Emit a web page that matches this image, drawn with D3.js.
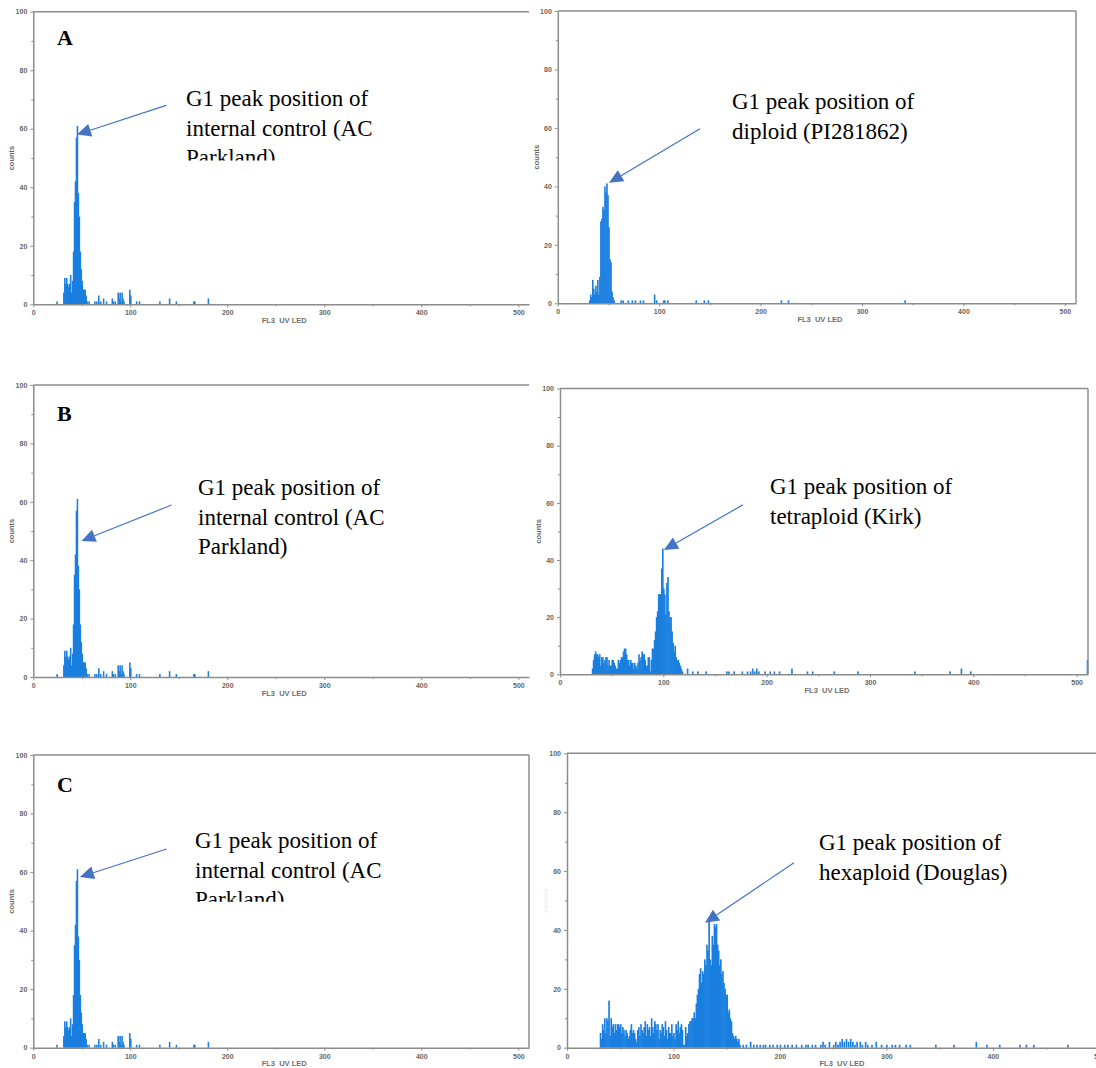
<!DOCTYPE html>
<html>
<head>
  <meta charset="utf-8">
  <title>Flow cytometry histograms</title>
  <style type="text/css">
    body { margin: 0; background: #fff; }
    svg { display: block; }
    .tick text { font-family: "Liberation Sans", Arial, sans-serif; font-size: 7px; font-weight: bold; fill: #666; }
    .axis path.domain { stroke: #8c8c8c; stroke-width: 1.5px; }
    .axis .tick line { stroke: #8c8c8c; }
    .note { font-family: "Liberation Serif", "Times New Roman", serif; font-size: 23px; fill: #000; }
    .letter { font-family: "Liberation Serif", "Times New Roman", serif; font-size: 22px; font-weight: bold; fill: #000; }
    .lab { font-family: "Liberation Sans", Arial, sans-serif; font-size: 7.5px; font-weight: bold; fill: #6f6f6f; }
  </style>
</head>
<body>
  <script src="https://cdn.jsdelivr.net/npm/d3@7/dist/d3.min.js"></script>
  <script>

    // histogram bins: [channel, counts]
    var controlBins = [[24,1],[31,4],[32,9],[33,7],[34,9],[35,7],[36,6],[37,7],[38,10],[39,4],[40,8],
      [41,18],[42,35],[43,42],[44,57],[45,61],[46,38],[47,30],[48,18],[49,12],[50,8],[51,5],[52,5],
      [53,5],[54,3],[55,1],[57,1],[63,1],[65,1],[67,3],[69,1],[72,2],[75,1],[81,2],[82,1],[84,1],
      [87,4],[88,2],[89,4],[90,1],[91,4],[92,2],[93,1],[99,5],[100,3],[106,1],[109,1],[130,1],
      [140,2],[147,1],[165,1],[166,1],[180,2]];

    var diploidBins = [[31,1],[32,3],[33,2],[34,8],[35,5],[36,3],[37,6],[38,4],[39,8],[40,3],[41,9],
      [42,28],[43,29],[44,33],[45,32],[46,40],[47,38],[48,41],[49,37],[50,26],[51,15],[52,14],[53,4],
      [54,2],[55,1],[62,1],[64,1],[69,1],[73,1],[76,1],[81,1],[84,1],[95,3],[97,1],[104,1],[105,1],
      [108,1],[136,1],[144,1],[148,1],[220,1],[227,1],[342,1]];

    var tetraploidBins = [[31,2],[32,5],[33,7],[34,8],[35,7],[36,7],[37,6],[38,7],[39,3],[40,6],[41,6],
      [42,4],[43,5],[44,6],[45,6],[46,3],[47,5],[48,3],[49,3],[50,5],[51,5],[52,4],[53,3],[54,2],[55,2],
      [56,5],[57,4],[58,5],[59,6],[60,6],[61,8],[62,9],[63,9],[64,7],[65,5],[66,5],[67,3],[68,5],[69,4],
      [70,4],[71,2],[72,4],[73,3],[74,2],[75,4],[76,7],[77,5],[78,6],[79,8],[80,7],[81,7],[82,5],[83,3],
      [84,3],[85,6],[86,6],[87,1],[88,5],[89,9],[90,9],[91,12],[92,15],[93,20],[94,22],[95,28],[96,28],
      [97,28],[98,37],[99,44],[100,30],[101,28],[102,21],[103,32],[104,34],[105,22],[106,20],[107,20],
      [108,15],[109,11],[110,8],[111,10],[112,6],[113,5],[114,5],[115,4],[116,3],[117,2],[118,1],
      [123,2],[128,1],[133,1],[141,1],[161,1],[163,1],[168,1],[176,1],[181,1],[184,1],[186,2],[188,1],
      [190,2],[192,1],[198,1],[203,1],[207,1],[212,1],[224,2],[239,1],[244,1],[265,1],[288,1],[343,1],
      [377,1],[388,2],[397,1],[510,5]];

    var hexaploidBins = [[31,5],[32,3],[33,8],[34,6],[35,10],[36,5],[37,10],[38,9],[39,16],[40,4],
      [41,10],[42,7],[43,8],[44,5],[45,8],[46,6],[47,8],[48,8],[49,7],[50,8],[51,5],[52,7],[53,6],
      [54,4],[55,6],[56,5],[57,3],[58,4],[59,6],[60,8],[61,5],[62,6],[63,5],[64,3],[65,2],[66,6],
      [67,7],[68,4],[69,8],[70,6],[71,5],[72,7],[73,9],[74,4],[75,8],[76,6],[77,7],[78,4],[79,10],
      [80,7],[81,5],[82,9],[83,8],[84,6],[85,8],[86,3],[87,6],[88,5],[89,8],[90,7],[91,4],[92,9],
      [93,6],[94,3],[95,7],[96,5],[97,5],[98,8],[99,4],[100,5],[101,3],[102,8],[103,6],[104,9],
      [105,5],[106,7],[107,8],[108,6],[109,1],[110,1],[111,7],[112,4],[113,5],[114,8],[115,9],[116,9],
      [117,10],[118,10],[119,12],[120,10],[121,15],[122,18],[123,20],[124,25],[125,27],[126,22],
      [127,26],[128,25],[129,30],[130,28],[131,35],[132,33],[133,43],[134,30],[135,28],[136,38],
      [137,35],[138,42],[139,41],[140,42],[141,35],[142,33],[143,28],[144,30],[145,25],[146,26],
      [147,22],[148,20],[149,18],[150,18],[151,12],[152,13],[153,10],[154,9],[155,5],[156,4],[157,3],
      [158,4],[159,3],[160,2],[161,3],[162,1],[165,1],[168,1],[172,2],[175,1],[178,1],[181,1],[184,1],
      [186,1],[190,1],[193,1],[197,1],[200,1],[204,1],[207,1],[211,1],[215,1],[220,1],[224,1],[226,1],
      [230,1],[233,1],[238,1],[240,2],[242,1],[246,2],[250,1],[252,2],[254,1],[256,2],[258,3],[260,2],
      [262,3],[264,2],[266,3],[268,2],[270,1],[272,2],[275,2],[277,1],[280,2],[282,1],[286,1],[290,2],
      [295,1],[300,1],[305,1],[308,1],[312,1],[318,1],[322,1],[346,1],[363,1],[384,2],[394,1],[406,1],
      [425,1],[431,1],[438,1],[470,1]];

    var xTicks = [0, 100, 200, 300, 400, 500];
    var xMinor = [50, 150, 250, 350, 450];
    var yTicks = [0, 20, 40, 60, 80, 100];
    var yMinor = [10, 30, 50, 70, 90];

    var noteControl    = ["G1 peak position of", "internal control (AC", "Parkland)"];
    var noteDiploid    = ["G1 peak position of", "diploid (PI281862)"];
    var noteTetraploid = ["G1 peak position of", "tetraploid (Kirk)"];
    var noteHexaploid  = ["G1 peak position of", "hexaploid (Douglas)"];

    // arrows in data units: [tail channel, tail count, tip channel, tip count]
    var arrowA  = [137, 68, 45, 58];
    var arrowB  = [142.6, 58.9, 49.6, 46.6];
    var arrowC  = [137.4, 67.9, 48.1, 58.3];
    var arrowA2 = [140.2, 59.7, 50.5, 41.2];
    var arrowB2 = [177.1, 59.3, 100.6, 43.5];
    var arrowC2 = [213.2, 62.8, 129.6, 42.4];

    // panel layout (pixels)
    var panels = [
      {bins: controlBins, left: 33.3, right: 529, top: 11.7, bottom: 304.3, letter: "A", letterY: 45,
       note: noteControl, noteX: 186, noteY: 106, clipY: 160.5, arrow: arrowA, countsFill: "#666", rightBorder: false},
      {bins: diploidBins, left: 557.8, right: 1076, top: 11, bottom: 303.3,
       note: noteDiploid, noteX: 732, noteY: 109, arrow: arrowA2, countsFill: "#666", rightBorder: true},
      {bins: controlBins, left: 33.3, right: 529, top: 385, bottom: 677, letter: "B", letterY: 420.7,
       note: noteControl, noteX: 198, noteY: 495, arrow: arrowB, countsFill: "#666", rightBorder: false},
      {bins: tetraploidBins, left: 560, right: 1088, top: 388.5, bottom: 674.3,
       note: noteTetraploid, noteX: 770, noteY: 494, arrow: arrowB2, countsFill: "#666", rightBorder: true},
      {bins: controlBins, left: 33.3, right: 529, top: 755, bottom: 1047.7, letter: "C", letterY: 792,
       note: noteControl, noteX: 195, noteY: 848, clipY: 901.7, arrow: arrowC, countsFill: "#666", rightBorder: true},
      {bins: hexaploidBins, left: 567, right: 1111, top: 753.3, bottom: 1047.7,
       note: noteHexaploid, noteX: 819, noteY: 850, arrow: arrowC2, countsFill: "#eee", rightBorder: false}
    ];

    var arrowColor = "#4472c4",
        barColor = "#1a7fdf",
        frameColor = "#8c8c8c";

    var svg = d3.select("body")
      .append("svg")
      .attr("width", 1096)
      .attr("height", 1068);

    svg.append("rect")
      .attr("width", 1096)
      .attr("height", 1068)
      .attr("fill", "#fff");

    var defs = svg.append("defs");

    panels.forEach(function(p, i){

      var x = d3.scaleLinear().domain([0, 511]).range([p.left, p.right]);
      var y = d3.scaleLinear().domain([0, 100]).range([p.bottom, p.top]);

      var g = svg.append("g");

      //histogram bars (slightly overlapping so neighbours merge)
      g.append("g")
        .selectAll("rect")
        .data(p.bins)
        .enter()
        .append("rect")
        .attr("x", function(d){ return x(d[0]) - 0.3; })
        .attr("width", function(d){ return x(d[0] + 1) - x(d[0]) + 0.6; })
        .attr("y", function(d){ return y(d[1]); })
        .attr("height", function(d){ return y(0) - y(d[1]); })
        .attr("fill", barColor);

      //frame: top edge and (sometimes) right edge
      g.append("line")
        .attr("x1", p.left).attr("x2", p.right)
        .attr("y1", p.top).attr("y2", p.top)
        .attr("stroke", frameColor).attr("stroke-width", 1.5);

      if(p.rightBorder)
        g.append("line")
          .attr("x1", p.right).attr("x2", p.right)
          .attr("y1", p.top).attr("y2", p.bottom)
          .attr("stroke", frameColor).attr("stroke-width", 1.5);

      //axes
      g.append("g")
        .attr("class", "axis")
        .attr("transform", "translate(" + p.left + ",0)")
        .call(d3.axisLeft(y).tickValues(yTicks).tickSize(3).tickSizeOuter(0).tickPadding(3));

      g.append("g")
        .attr("class", "axis")
        .attr("transform", "translate(" + p.left + ",0)")
        .call(d3.axisLeft(y).tickValues(yMinor).tickSize(2).tickFormat(""))
        .select(".domain").remove();

      g.append("g")
        .attr("class", "axis")
        .attr("transform", "translate(0," + p.bottom + ")")
        .call(d3.axisBottom(x).tickValues(xTicks).tickSize(3).tickSizeOuter(0).tickPadding(3));

      g.append("g")
        .attr("class", "axis")
        .attr("transform", "translate(0," + p.bottom + ")")
        .call(d3.axisBottom(x).tickValues(xMinor).tickSize(2).tickFormat(""))
        .select(".domain").remove();

      //axis titles
      g.append("text")
        .attr("class", "lab")
        .attr("x", (p.left + p.right) / 2 + 3)
        .attr("y", p.bottom + 18.5)
        .attr("text-anchor", "middle")
        .style("white-space", "pre")
        .text("FL3  UV LED");

      g.append("text")
        .attr("class", "lab")
        .attr("transform", "translate(" + (p.left - 19) + "," + ((p.top + p.bottom) / 2) + ") rotate(-90)")
        .attr("text-anchor", "middle")
        .style("fill", p.countsFill)
        .text("counts");

      //panel letter
      if(p.letter)
        g.append("text")
          .attr("class", "letter")
          .attr("x", 57)
          .attr("y", p.letterY)
          .text(p.letter);

      //annotation text box
      var note = g.append("text")
        .attr("class", "note");

      if(p.clipY){
        var id = "clip" + i;
        defs.append("clipPath")
          .attr("id", id)
          .append("rect")
          .attr("x", p.noteX - 5)
          .attr("y", p.noteY - 30)
          .attr("width", 260)
          .attr("height", p.clipY - (p.noteY - 30));
        note.attr("clip-path", "url(#" + id + ")");
      }

      note.selectAll("tspan")
        .data(p.note)
        .enter()
        .append("tspan")
        .attr("x", p.noteX)
        .attr("y", function(d, j){ return p.noteY + j * 29.5; })
        .text(function(d){ return d; });

      //arrow pointing at the G1 peak
      var x1 = x(p.arrow[0]), y1 = y(p.arrow[1]),
          x2 = x(p.arrow[2]), y2 = y(p.arrow[3]);
      var dx = x2 - x1, dy = y2 - y1,
          len = Math.sqrt(dx*dx + dy*dy),
          ux = dx / len, uy = dy / len,
          headL = 14, headW = 6.5;
      var bx = x2 - ux * headL, by = y2 - uy * headL;

      g.append("line")
        .attr("x1", x1).attr("y1", y1)
        .attr("x2", bx).attr("y2", by)
        .attr("stroke", arrowColor)
        .attr("stroke-width", 1.2);

      g.append("path")
        .attr("d", "M" + x2 + "," + y2 +
                   "L" + (bx - uy * headW) + "," + (by + ux * headW) +
                   "L" + (bx + uy * headW) + "," + (by - ux * headW) + "Z")
        .attr("fill", arrowColor);
    });

  </script>
</body>
</html>
